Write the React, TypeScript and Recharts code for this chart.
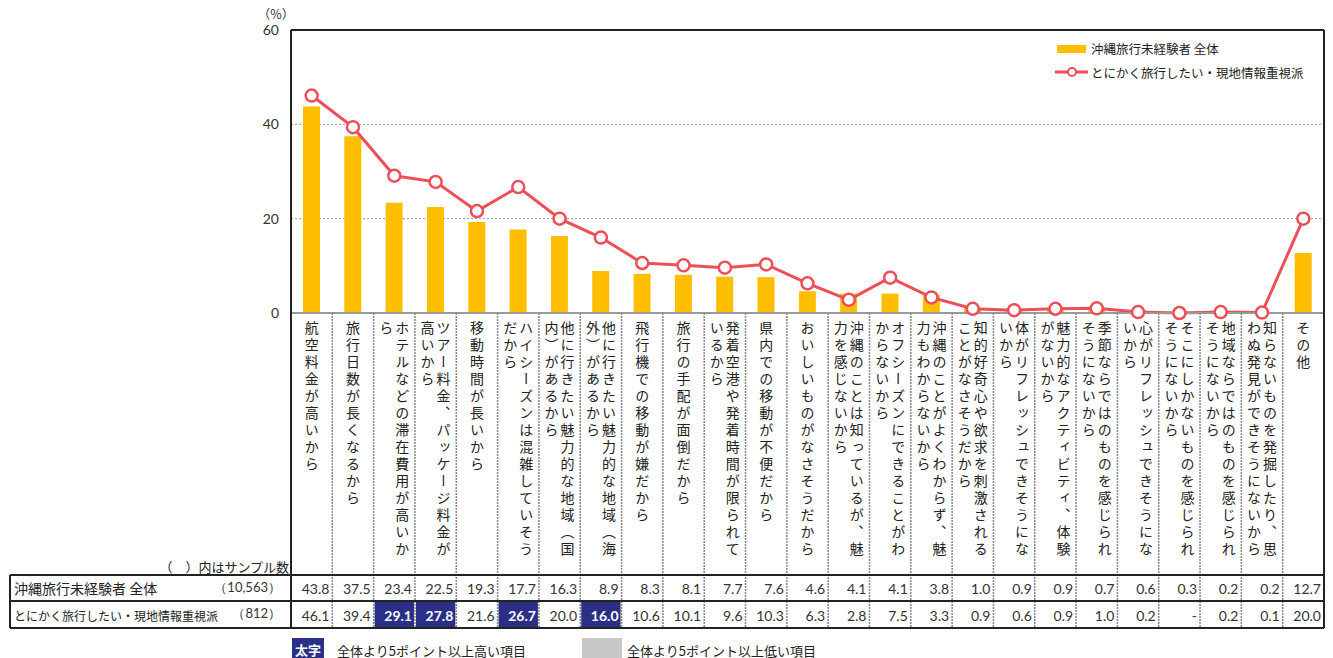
import { ComposedChart, Bar, Line, XAxis, YAxis, CartesianGrid } from 'recharts';

const categories = [
  '航空料金が高いから',
  '旅行日数が長くなるから',
  'ホテルなどの滞在費用が高いから',
  'ツアー料金、パッケージ料金が高いから',
  '移動時間が長いから',
  'ハイシーズンは混雑していそうだから',
  '他に行きたい魅力的な地域（国内）があるから',
  '他に行きたい魅力的な地域（海外）があるから',
  '飛行機での移動が嫌だから',
  '旅行の手配が面倒だから',
  '発着空港や発着時間が限られているから',
  '県内での移動が不便だから',
  'おいしいものがなさそうだから',
  '沖縄のことは知っているが、魅力を感じないから',
  'オフシーズンにできることがわからないから',
  '沖縄のことがよくわからず、魅力もわからないから',
  '知的好奇心や欲求を刺激されることがなさそうだから',
  '体がリフレッシュできそうにないから',
  '魅力的なアクティビティ、体験がないから',
  '季節ならではのものを感じられそうにないから',
  '心がリフレッシュできそうにないから',
  'そこにしかないものを感じられそうにないから',
  '地域ならではのものを感じられそうにないから',
  '知らないものを発掘したり、思わぬ発見ができそうにないから',
  'その他',
];

const totalValues = [43.8, 37.5, 23.4, 22.5, 19.3, 17.7, 16.3, 8.9, 8.3, 8.1, 7.7, 7.6, 4.6, 4.1, 4.1, 3.8, 1.0, 0.9, 0.9, 0.7, 0.6, 0.3, 0.2, 0.2, 12.7];
const groupValues: (number | null)[] = [46.1, 39.4, 29.1, 27.8, 21.6, 26.7, 20.0, 16.0, 10.6, 10.1, 9.6, 10.3, 6.3, 2.8, 7.5, 3.3, 0.9, 0.6, 0.9, 1.0, 0.2, null, 0.2, 0.1, 20.0];
const highlighted = [2, 3, 5, 7];

const seriesNames = ['沖縄旅行未経験者 全体', 'とにかく旅行したい・現地情報重視派'];
const sampleSizes = ['（10,563）', '（812）'];
const yTicks = [0, 20, 40, 60];

const data = categories.map((name, i) => ({
  name,
  total: totalValues[i],
  group: groupValues[i] ?? 0,
}));

const W = 1333;
const H = 658;
const PLOT_L = 291;
const PLOT_R = 1324;
const PLOT_T = 30;
const PLOT_B = 313;
const ROW1 = 575;
const ROW2 = 601;
const TABLE_B = 628;
const BAND = (PLOT_R - PLOT_L) / categories.length;

const JP = '"Noto Sans CJK JP", sans-serif';
const NUM = 'Lato, "Noto Sans", sans-serif';
const BAR_COLOR = '#FFBF00';
const LINE_COLOR = '#EE4E57';
const NAVY = '#2B2F86';

const fmt = (v: number | null) => (v === null ? '-' : v.toFixed(1));

const CategoryTick = (props: any) => {
  const { x, payload } = props;
  const i = categories.indexOf(payload.value);
  const label: string = payload.value;
  const cols: string[] = [];
  for (let k = 0; k < label.length; k += 14) cols.push(label.slice(k, k + 14));
  const n = cols.length;
  const isHi = highlighted.includes(i);
  return (
    <g>
      {cols.map((col, j) => (
        <text
          key={j}
          x={x + ((n - 1) / 2 - j) * 16}
          y={321}
          fontSize={14}
          fill="#222"
          style={{ fontFamily: JP, writingMode: 'vertical-rl', letterSpacing: 3 } as any}
        >
          {col}
        </text>
      ))}
      {i < categories.length - 1 && (
        <line x1={x + BAND / 2} x2={x + BAND / 2} y1={PLOT_B} y2={TABLE_B} stroke="#888" strokeWidth={1.5} strokeDasharray="2 1" />
      )}
      <text x={x + BAND / 2 - 3} y={ROW1 + 13} textAnchor="end" dominantBaseline="central" fontSize={14} fill="#333" style={{ fontFamily: NUM }}>
        {fmt(totalValues[i])}
      </text>
      {isHi && <rect x={x - BAND / 2 + 1} y={ROW2 + 1} width={BAND - 2} height={TABLE_B - ROW2 - 2} fill={NAVY} />}
      <text
        x={x + BAND / 2 - 3}
        y={ROW2 + 14}
        textAnchor="end"
        dominantBaseline="central"
        fontSize={14}
        fontWeight={isHi ? 700 : 400}
        fill={isHi ? '#fff' : '#333'}
        style={{ fontFamily: NUM }}
      >
        {fmt(groupValues[i])}
      </text>
    </g>
  );
};

export default function App() {
  return (
    <div style={{ position: 'absolute', left: 0, top: 0, width: W, height: H, background: '#fff' }}>
      <ComposedChart width={W} height={H} data={data} margin={{ top: PLOT_T, right: W - PLOT_R, bottom: 0, left: 0 }}>
        <CartesianGrid vertical={false} stroke="#999" strokeDasharray="2 2" />
        <XAxis
          dataKey="name"
          interval={0}
          height={H - PLOT_B}
          tickLine={false}
          axisLine={{ stroke: '#999', strokeWidth: 2 }}
          tick={<CategoryTick />}
        />
        <YAxis
          width={PLOT_L}
          domain={[0, 60]}
          ticks={yTicks}
          tickLine={false}
          tickSize={0}
          tickMargin={12}
          axisLine={{ stroke: '#222', strokeWidth: 2 }}
          tick={{ fontSize: 14, fill: '#333', fontFamily: NUM }}
        />
        <Bar dataKey="total" name={seriesNames[0]} fill={BAR_COLOR} barSize={17} isAnimationActive={false} />
        <Line
          dataKey="group"
          name={seriesNames[1]}
          stroke={LINE_COLOR}
          strokeWidth={3}
          dot={{ r: 6, fill: '#fff', stroke: LINE_COLOR, strokeWidth: 2.5 }}
          isAnimationActive={false}
        />
      </ComposedChart>
      <svg width={W} height={H} style={{ position: 'absolute', left: 0, top: 0, pointerEvents: 'none' }}>
        <text x={276} y={13} textAnchor="middle" dominantBaseline="central" fontSize={12.5} fill="#333" style={{ fontFamily: JP }}>
          （%）
        </text>
        <line x1={PLOT_L} x2={PLOT_R} y1={PLOT_T} y2={PLOT_T} stroke="#222" strokeWidth={2} />
        <line x1={PLOT_R} x2={PLOT_R} y1={PLOT_T} y2={TABLE_B} stroke="#222" strokeWidth={2} />
        <line x1={PLOT_L} x2={PLOT_L} y1={PLOT_B} y2={TABLE_B} stroke="#222" strokeWidth={2} />
        <line x1={10} x2={PLOT_R} y1={ROW1} y2={ROW1} stroke="#222" strokeWidth={2} />
        <line x1={10} x2={PLOT_R} y1={ROW2} y2={ROW2} stroke="#222" strokeWidth={2} />
        <line x1={10} x2={PLOT_R} y1={TABLE_B} y2={TABLE_B} stroke="#222" strokeWidth={2} />
        <line x1={10} x2={10} y1={ROW1} y2={TABLE_B} stroke="#222" strokeWidth={2} />
        <rect x={1057} y={45} width={29} height={8} fill={BAR_COLOR} />
        <text x={1091} y={48} fontSize={12.5} dominantBaseline="central" fill="#222" style={{ fontFamily: JP }}>
          {seriesNames[0]}
        </text>
        <line x1={1055} x2={1088} y1={72} y2={72} stroke={LINE_COLOR} strokeWidth={3} />
        <circle cx={1072} cy={72} r={4} fill="#fff" stroke={LINE_COLOR} strokeWidth={2} />
        <text x={1091} y={72} fontSize={12.5} dominantBaseline="central" fill="#222" style={{ fontFamily: JP }}>
          {seriesNames[1]}
        </text>
        <text x={289} y={566} textAnchor="end" dominantBaseline="central" fontSize={13} fill="#222" style={{ fontFamily: JP }}>
          （　）内はサンプル数
        </text>
        <text x={14} y={ROW1 + 13} dominantBaseline="central" fontSize={14} fill="#222" style={{ fontFamily: JP }}>
          {seriesNames[0]}
        </text>
        <text x={281} y={ROW1 + 12} textAnchor="end" dominantBaseline="central" fontSize={13} fill="#333" style={{ fontFamily: NUM }}>
          {sampleSizes[0]}
        </text>
        <text x={14} y={ROW2 + 14} dominantBaseline="central" fontSize={12} fill="#222" style={{ fontFamily: JP }}>
          {seriesNames[1]}
        </text>
        <text x={281} y={ROW2 + 12} textAnchor="end" dominantBaseline="central" fontSize={13} fill="#333" style={{ fontFamily: NUM }}>
          {sampleSizes[1]}
        </text>
        <rect x={292} y={638} width={32} height={20} fill={NAVY} />
        <text x={308} y={649} textAnchor="middle" dominantBaseline="central" fontSize={13} fontWeight={700} fill="#fff" style={{ fontFamily: JP }}>
          太字
        </text>
        <text x={337} y={650} dominantBaseline="central" fontSize={13} fill="#222" style={{ fontFamily: JP }}>
          全体より5ポイント以上高い項目
        </text>
        <rect x={582} y={638} width={40} height={20} fill="#C8C8C8" />
        <text x={627} y={650} dominantBaseline="central" fontSize={13} fill="#222" style={{ fontFamily: JP }}>
          全体より5ポイント以上低い項目
        </text>
      </svg>
    </div>
  );
}
